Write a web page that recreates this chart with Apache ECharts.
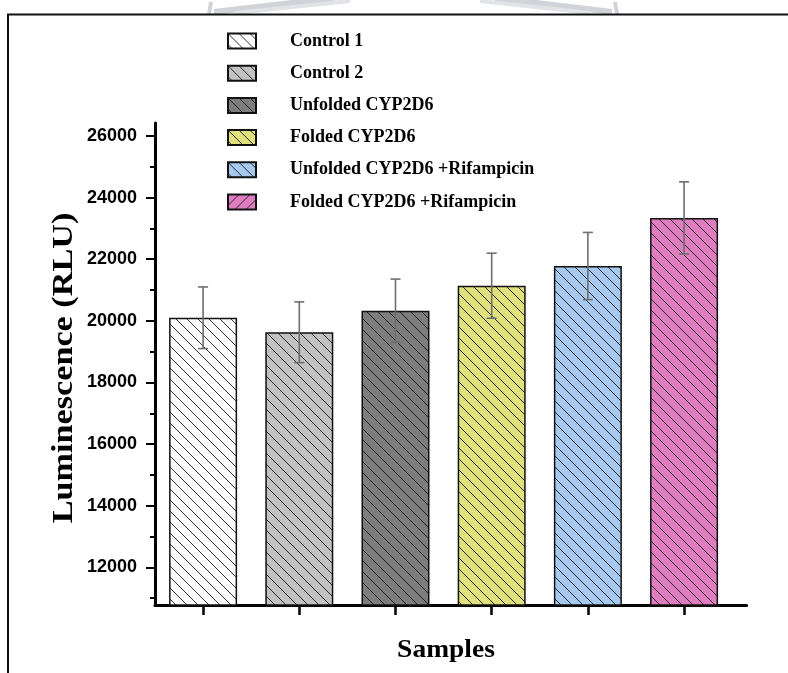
<!DOCTYPE html>
<html>
<head>
<meta charset="utf-8">
<script src="https://cdn.jsdelivr.net/npm/echarts@6/dist/echarts.min.js"></script>
<style>
  html, body { margin: 0; padding: 0; background: #ffffff; }
  #chart { width: 788px; height: 673px; }
</style>
</head>
<body>
<div id="chart"></div>
<script>
// Sample groups and their luminescence readings (mean ± error)
const categories = [
  'Control 1',
  'Control 2',
  'Unfolded CYP2D6',
  'Folded CYP2D6',
  'Unfolded CYP2D6 +Rifampicin',
  'Folded CYP2D6 +Rifampicin'
];
const means = [20100, 19630, 20330, 21140, 21780, 23340];
const errors = [1000, 985, 1025, 1055, 1090, 1170];

// Tick values on the luminescence axis
const yTicks = [12000, 14000, 16000, 18000, 20000, 22000, 24000, 26000];
const yMinorTicks = [11000, 13000, 15000, 17000, 19000, 21000, 23000, 25000];

// Fill colours and hatch ink per group
const fills = ['#ffffff', '#c2c2c2', '#7d7d7d', '#e0e07c', '#a7c9ef', '#e07cc0'];
const inks = ['#333333', '#2a2a2a', '#1e1e1e', '#2a2a2a', '#2a2a2a', '#2a2a2a'];

// Diagonal hatch tile; dir '\\' runs top-left to bottom-right, '/' the other way
function hatch(fill, ink, dir) {
  const s = 11;
  const c = document.createElement('canvas');
  c.width = s; c.height = s;
  const g = c.getContext('2d');
  g.fillStyle = fill;
  g.fillRect(0, 0, s, s);
  g.strokeStyle = ink;
  g.lineWidth = 1;
  g.beginPath();
  if (dir === '/') {
    g.moveTo(-1, s + 1); g.lineTo(s + 1, -1);
    g.moveTo(-1, 1); g.lineTo(1, -1);
    g.moveTo(s - 1, s + 1); g.lineTo(s + 1, s - 1);
  } else {
    g.moveTo(-1, -1); g.lineTo(s + 1, s + 1);
    g.moveTo(-1, s - 1); g.lineTo(1, s + 1);
    g.moveTo(s - 1, -1); g.lineTo(s + 1, 1);
  }
  g.stroke();
  return { image: c, repeat: 'repeat' };
}

const chart = echarts.init(document.getElementById('chart'), null, { renderer: 'canvas' });

const barSeries = categories.map((name, i) => ({
  name: name,
  type: 'bar',
  barWidth: 68,
  barGap: '-100%',
  data: [[i, means[i]]],
  itemStyle: {
    color: hatch(fills[i], inks[i], '\\'),
    borderColor: '#111111',
    borderWidth: 1.5
  },
  emphasis: { disabled: true },
  z: 2
}));

const errorData = means.map((m, i) => [i, m - errors[i], m + errors[i]]);

const errorSeries = {
  name: 'error',
  type: 'custom',
  data: errorData,
  z: 5,
  renderItem: function (params, api) {
    const x = api.value(0);
    const top = api.coord([x, api.value(2)]);
    const bot = api.coord([x, api.value(1)]);
    const half = 5;
    const st = { stroke: '#6e6e6e', lineWidth: 1.6 };
    return {
      type: 'group',
      children: [
        { type: 'line', shape: { x1: top[0], y1: top[1], x2: bot[0], y2: bot[1] }, style: st },
        { type: 'line', shape: { x1: top[0] - half, y1: top[1], x2: top[0] + half, y2: top[1] }, style: st },
        { type: 'line', shape: { x1: bot[0] - half, y1: bot[1], x2: bot[0] + half, y2: bot[1] }, style: st }
      ]
    };
  }
};

const legendData = categories.map((name, i) => {
  const item = { name: name, icon: 'rect' };
  if (i === categories.length - 1) {
    item.itemStyle = { color: hatch(fills[i], inks[i], '/') };
  }
  return item;
});

const option = {
  animation: false,
  backgroundColor: '#ffffff',
  grid: { left: 155, right: 41.4, top: 123, bottom: 68, containLabel: false },
  legend: {
    orient: 'vertical',
    left: 227,
    top: 32,
    padding: 0,
    itemGap: 14.2,
    itemWidth: 28,
    itemHeight: 15,
    icon: 'rect',
    data: legendData,
    selectedMode: false,
    itemStyle: { borderColor: '#111111', borderWidth: 2 },
    textStyle: {
      fontFamily: 'Liberation Serif',
      fontWeight: 'bold',
      fontSize: 18,
      lineHeight: 18,
      color: '#000000',
      padding: [0, 0, 0, 29]
    }
  },
  xAxis: {
    type: 'value',
    min: -0.5,
    max: 5.65,
    axisLine: { show: true, onZero: false, lineStyle: { color: '#000000', width: 3 } },
    axisTick: { show: true, customValues: [0, 1, 2, 3, 4, 5], length: 10, lineStyle: { color: '#000000', width: 2.5 } },
    axisLabel: { show: false },
    splitLine: { show: false }
  },
  yAxis: [
    {
      type: 'value',
      min: 10780,
      max: 26420,
      axisLine: { show: true, onZero: false, lineStyle: { color: '#000000', width: 3 } },
      axisTick: { show: true, customValues: yTicks, length: 9, lineStyle: { color: '#000000', width: 2 } },
      axisLabel: {
        customValues: yTicks,
        formatter: function (v) { return String(v); },
        margin: 18,
        fontFamily: 'Liberation Sans',
        fontWeight: 'bold',
        fontSize: 18,
        color: '#000000'
      },
      splitLine: { show: false }
    },
    {
      type: 'value',
      min: 10780,
      max: 26420,
      position: 'left',
      axisLine: { show: false, onZero: false },
      axisTick: { show: true, customValues: yMinorTicks, length: 5, lineStyle: { color: '#000000', width: 2 } },
      axisLabel: { show: false },
      splitLine: { show: false }
    }
  ],
  graphic: [
    // faint emblem strokes above the frame
    { type: 'polyline', silent: true, shape: { points: [[209, 14], [211, 2]] }, style: { stroke: '#d2d3d8', lineWidth: 4 } },
    { type: 'line', silent: true, shape: { x1: 214, y1: 12, x2: 335, y2: -2 }, style: { stroke: '#d2d3d8', lineWidth: 6 } },
    { type: 'line', silent: true, shape: { x1: 236, y1: 13, x2: 350, y2: 1 }, style: { stroke: '#e2e3e7', lineWidth: 4 } },
    { type: 'polyline', silent: true, shape: { points: [[617, 14], [615, 2]] }, style: { stroke: '#d2d3d8', lineWidth: 4 } },
    { type: 'line', silent: true, shape: { x1: 612, y1: 12, x2: 495, y2: -2 }, style: { stroke: '#d2d3d8', lineWidth: 6 } },
    { type: 'line', silent: true, shape: { x1: 590, y1: 13, x2: 480, y2: 1 }, style: { stroke: '#e2e3e7', lineWidth: 4 } },
    // figure frame
    { type: 'line', silent: true, shape: { x1: 7, y1: 14.5, x2: 790, y2: 14.5 }, style: { stroke: '#111111', lineWidth: 2 } },
    { type: 'line', silent: true, shape: { x1: 8, y1: 14, x2: 8, y2: 680 }, style: { stroke: '#111111', lineWidth: 2 } },
    // axis titles
    {
      type: 'text', silent: true,
      x: 65, y: 368, rotation: Math.PI / 2, scaleX: 1.2, scaleY: 1,
      style: {
        text: 'Luminescence (RLU)',
        fontFamily: 'Liberation Serif', fontWeight: 'bold', fontSize: 28.5,
        fill: '#000000', textAlign: 'center', textVerticalAlign: 'middle'
      }
    },
    {
      type: 'text', silent: true,
      x: 446, y: 651, scaleX: 1.1, scaleY: 1,
      style: {
        text: 'Samples',
        fontFamily: 'Liberation Serif', fontWeight: 'bold', fontSize: 25,
        fill: '#000000', textAlign: 'center', textVerticalAlign: 'middle'
      }
    }
  ],
  series: barSeries.concat([errorSeries])
};

chart.setOption(option);
</script>
</body>
</html>
